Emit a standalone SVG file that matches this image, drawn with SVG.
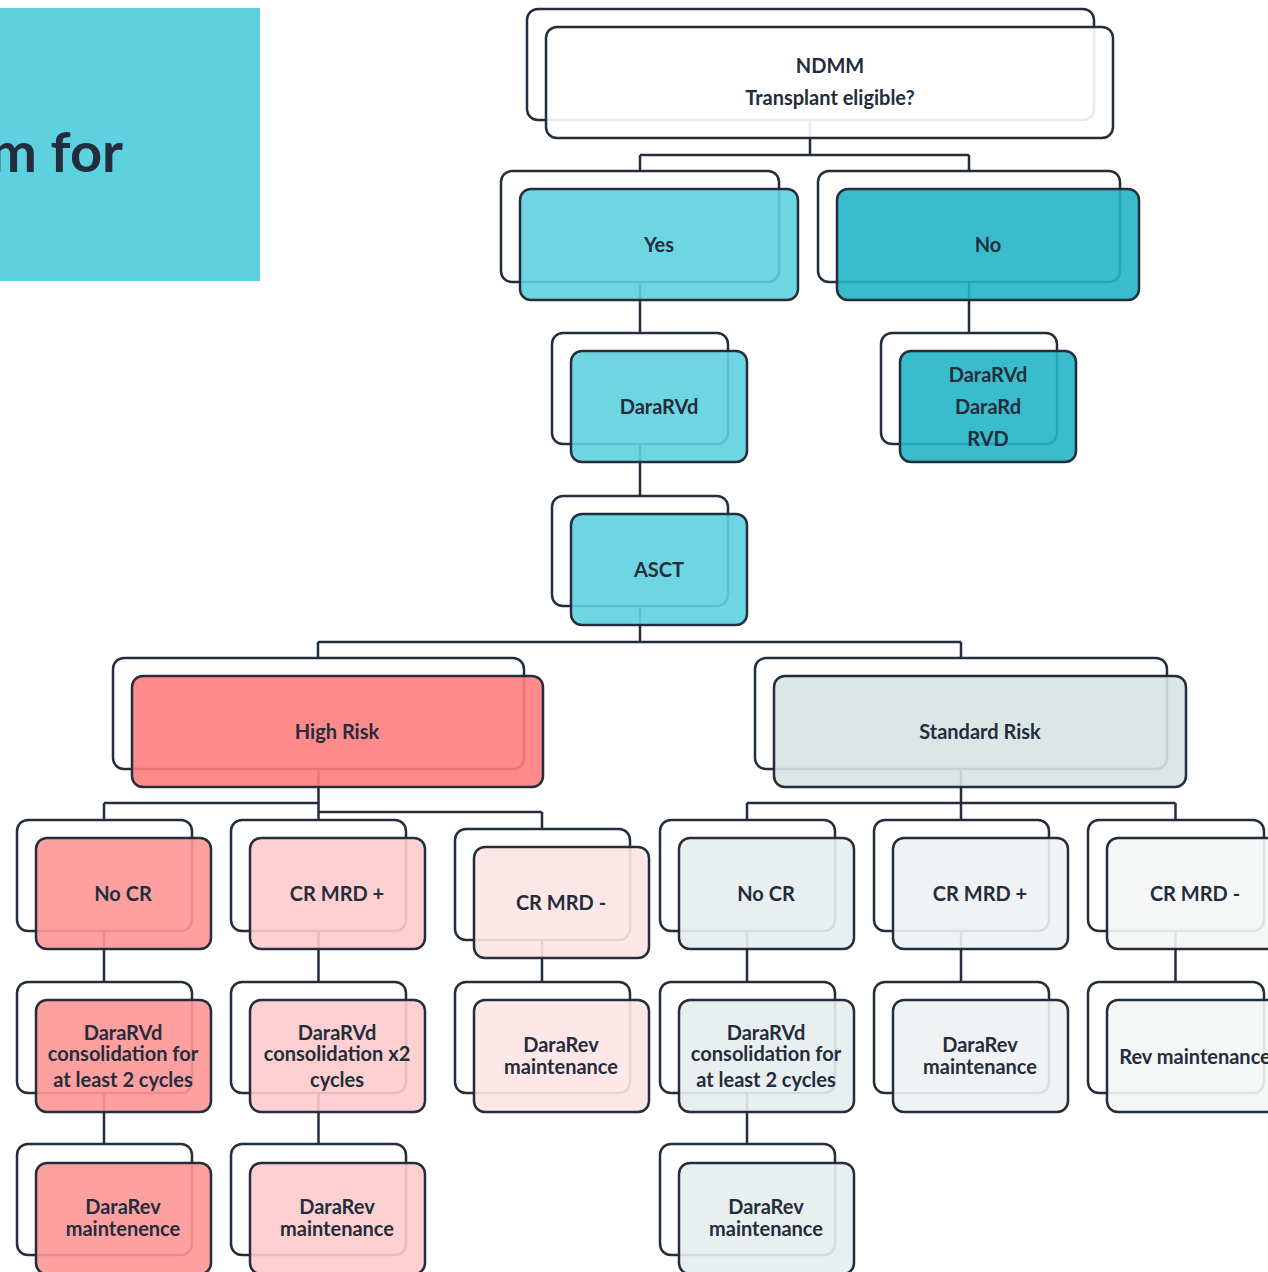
<svg xmlns="http://www.w3.org/2000/svg" width="1268" height="1272" viewBox="0 0 1268 1272">
<style>
.bk{fill:#ffffff;stroke:#232d3b;stroke-width:2.5}
.fr{stroke:#232d3b;stroke-width:2.5;fill-opacity:0.9}
.cn{fill:none;stroke:#232d3b;stroke-width:2.5}
text{font-family:Lato,"Open Sans","Liberation Sans",sans-serif;font-weight:bold;font-size:20px;fill:#232d3b;text-anchor:middle}
.t{fill:#5ed0e0}.n{fill:#24b5c7}.w{fill:#ffffff}
.hr{fill:#ff7d7e}.h1{fill:#ff9696}.h2{fill:#ffcbcc}.h3{fill:#ffe4e4}
.sr{fill:#d9e3e4}.s1{fill:#e7edef}.s2{fill:#edf2f3}.s3{fill:#f4f6f6}
</style>
<rect x="0" y="8" width="260" height="273" fill="#5ed1e0"/>
<text x="123" y="172" style="font-size:56px;text-anchor:end">m for</text>
<g id="connectors" class="cn">
<path d="M810,120V155M640,155H969M640,155V171M969,155V171"/>
<path d="M640,282V333M969,282V333M640,444V496"/>
<path d="M640,606V642M318,642H961M318,642V658M961,642V658"/>
<path d="M318.5,769V820M104,803H318.5M104,803V820M318.5,812H542M542,812V829"/>
<path d="M961,769V820M747,803H1175.5M747,803V820M1175.5,803V820"/>
<path d="M104,931V982M318.5,931V982M542,940V982M747,931V982M961,931V982M1175.5,931V982"/>
<path d="M104,1093V1144M318.5,1093V1144M747,1093V1144"/>
</g>
<g id="ndmm"><rect class="bk" x="527" y="9" width="567" height="111" rx="11"/><rect class="fr w" x="546" y="27" width="567" height="111" rx="11"/><text x="830" y="73">NDMM</text><text x="830" y="105">Transplant eligible?</text></g>
<g id="yes"><rect class="bk" x="501" y="171" width="278" height="111" rx="11"/><rect class="fr t" x="520" y="189" width="278" height="111" rx="11"/><text x="659" y="252">Yes</text></g>
<g id="no"><rect class="bk" x="818" y="171" width="302" height="111" rx="11"/><rect class="fr n" x="837" y="189" width="302" height="111" rx="11"/><text x="988" y="252">No</text></g>
<g id="dararvd"><rect class="bk" x="552" y="333" width="176" height="111" rx="11"/><rect class="fr t" x="571" y="351" width="176" height="111" rx="11"/><text x="659" y="414">DaraRVd</text></g>
<g id="noopts"><rect class="bk" x="881" y="333" width="176" height="111" rx="11"/><rect class="fr n" x="900" y="351" width="176" height="111" rx="11"/><text x="988" y="382">DaraRVd</text><text x="988" y="414">DaraRd</text><text x="988" y="446">RVD</text></g>
<g id="asct"><rect class="bk" x="552" y="496" width="176" height="110" rx="11"/><rect class="fr t" x="571" y="514" width="176" height="111" rx="11"/><text x="659" y="577">ASCT</text></g>
<g id="highrisk"><rect class="bk" x="113" y="658" width="411" height="111" rx="11"/><rect class="fr hr" x="132" y="676" width="411" height="111" rx="11"/><text x="337" y="739">High Risk</text></g>
<g id="stdrisk"><rect class="bk" x="755" y="658" width="412" height="111" rx="11"/><rect class="fr sr" x="774" y="676" width="412" height="111" rx="11"/><text x="980" y="739">Standard Risk</text></g>
<g id="hr-nocr"><rect class="bk" x="17" y="820" width="175" height="111" rx="11"/><rect class="fr h1" x="36" y="838" width="175" height="111" rx="11"/><text x="123" y="901">No CR</text></g>
<g id="hr-mrdpos"><rect class="bk" x="231" y="820" width="175" height="111" rx="11"/><rect class="fr h2" x="250" y="838" width="175" height="111" rx="11"/><text x="337" y="901">CR MRD +</text></g>
<g id="hr-mrdneg"><rect class="bk" x="455" y="829" width="175" height="111" rx="11"/><rect class="fr h3" x="474" y="847" width="175" height="111" rx="11"/><text x="561" y="910">CR MRD -</text></g>
<g id="sr-nocr"><rect class="bk" x="660" y="820" width="175" height="111" rx="11"/><rect class="fr s1" x="679" y="838" width="175" height="111" rx="11"/><text x="766" y="901">No CR</text></g>
<g id="sr-mrdpos"><rect class="bk" x="874" y="820" width="175" height="111" rx="11"/><rect class="fr s2" x="893" y="838" width="175" height="111" rx="11"/><text x="980" y="901">CR MRD +</text></g>
<g id="sr-mrdneg"><rect class="bk" x="1088" y="820" width="176" height="111" rx="11"/><rect class="fr s3" x="1107" y="838" width="176" height="111" rx="11"/><text x="1195" y="901">CR MRD -</text></g>
<g id="hr-nocr-cons"><rect class="bk" x="17" y="982" width="175" height="111" rx="11"/><rect class="fr h1" x="36" y="1000" width="175" height="112" rx="11"/><text x="123" y="1040">DaraRVd</text><text x="123" y="1061">consolidation for</text><text x="123" y="1087">at least 2 cycles</text></g>
<g id="hr-mrdpos-cons"><rect class="bk" x="231" y="982" width="175" height="111" rx="11"/><rect class="fr h2" x="250" y="1000" width="175" height="112" rx="11"/><text x="337" y="1040">DaraRVd</text><text x="337" y="1061">consolidation x2</text><text x="337" y="1087">cycles</text></g>
<g id="hr-mrdneg-maint"><rect class="bk" x="455" y="982" width="175" height="111" rx="11"/><rect class="fr h3" x="474" y="1000" width="175" height="112" rx="11"/><text x="561" y="1052">DaraRev</text><text x="561" y="1074">maintenance</text></g>
<g id="sr-nocr-cons"><rect class="bk" x="660" y="982" width="175" height="111" rx="11"/><rect class="fr s1" x="679" y="1000" width="175" height="112" rx="11"/><text x="766" y="1040">DaraRVd</text><text x="766" y="1061">consolidation for</text><text x="766" y="1087">at least 2 cycles</text></g>
<g id="sr-mrdpos-maint"><rect class="bk" x="874" y="982" width="175" height="111" rx="11"/><rect class="fr s2" x="893" y="1000" width="175" height="112" rx="11"/><text x="980" y="1052">DaraRev</text><text x="980" y="1074">maintenance</text></g>
<g id="sr-mrdneg-maint"><rect class="bk" x="1088" y="982" width="176" height="111" rx="11"/><rect class="fr s3" x="1107" y="1000" width="176" height="112" rx="11"/><text x="1195" y="1064">Rev maintenance</text></g>
<g id="hr-nocr-maint"><rect class="bk" x="17" y="1144" width="175" height="111" rx="11"/><rect class="fr h1" x="36" y="1163" width="175" height="111" rx="11"/><text x="123" y="1214">DaraRev</text><text x="123" y="1236">maintenence</text></g>
<g id="hr-mrdpos-maint"><rect class="bk" x="231" y="1144" width="175" height="111" rx="11"/><rect class="fr h2" x="250" y="1163" width="175" height="111" rx="11"/><text x="337" y="1214">DaraRev</text><text x="337" y="1236">maintenance</text></g>
<g id="sr-nocr-maint"><rect class="bk" x="660" y="1144" width="175" height="111" rx="11"/><rect class="fr s1" x="679" y="1163" width="175" height="111" rx="11"/><text x="766" y="1214">DaraRev</text><text x="766" y="1236">maintenance</text></g>
</svg>
